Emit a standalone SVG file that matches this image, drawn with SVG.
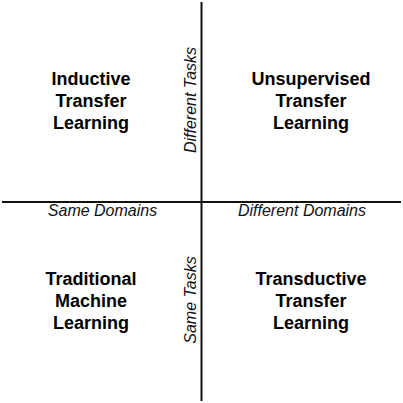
<svg xmlns="http://www.w3.org/2000/svg" width="403" height="403" viewBox="0 0 403 403">
  <style>
    .quad { font-family: "Liberation Sans", Arial, sans-serif; font-size: 18px; font-weight: bold; fill: #000; text-anchor: middle; }
    .axis-label { font-family: "Liberation Sans", Arial, sans-serif; font-size: 16px; font-style: italic; fill: #111; text-anchor: middle; }
    .axis { stroke: #111; stroke-width: 2; fill: none; }
  </style>
  <rect width="403" height="403" fill="#fff"/>
  <g id="connectors">
    <line class="axis" x1="201.5" y1="2" x2="201.5" y2="401"/>
    <line class="axis" x1="2" y1="202" x2="401" y2="202"/>
  </g>
  <g id="inductive">
    <text class="quad" x="91" y="85">Inductive</text>
    <text class="quad" x="91" y="107">Transfer</text>
    <text class="quad" x="91" y="129">Learning</text>
  </g>
  <g id="unsupervised">
    <text class="quad" x="311" y="85">Unsupervised</text>
    <text class="quad" x="311" y="107">Transfer</text>
    <text class="quad" x="311" y="129">Learning</text>
  </g>
  <g id="traditional">
    <text class="quad" x="91" y="285">Traditional</text>
    <text class="quad" x="91" y="307">Machine</text>
    <text class="quad" x="91" y="329">Learning</text>
  </g>
  <g id="transductive">
    <text class="quad" x="311" y="285">Transductive</text>
    <text class="quad" x="311" y="307">Transfer</text>
    <text class="quad" x="311" y="329">Learning</text>
  </g>
  <g id="axis-labels">
    <text class="axis-label" x="102.5" y="216">Same Domains</text>
    <text class="axis-label" x="302" y="216">Different Domains</text>
    <text class="axis-label" transform="translate(196 100) rotate(-90)">Different Tasks</text>
    <text class="axis-label" transform="translate(196 300) rotate(-90)">Same Tasks</text>
  </g>
</svg>
